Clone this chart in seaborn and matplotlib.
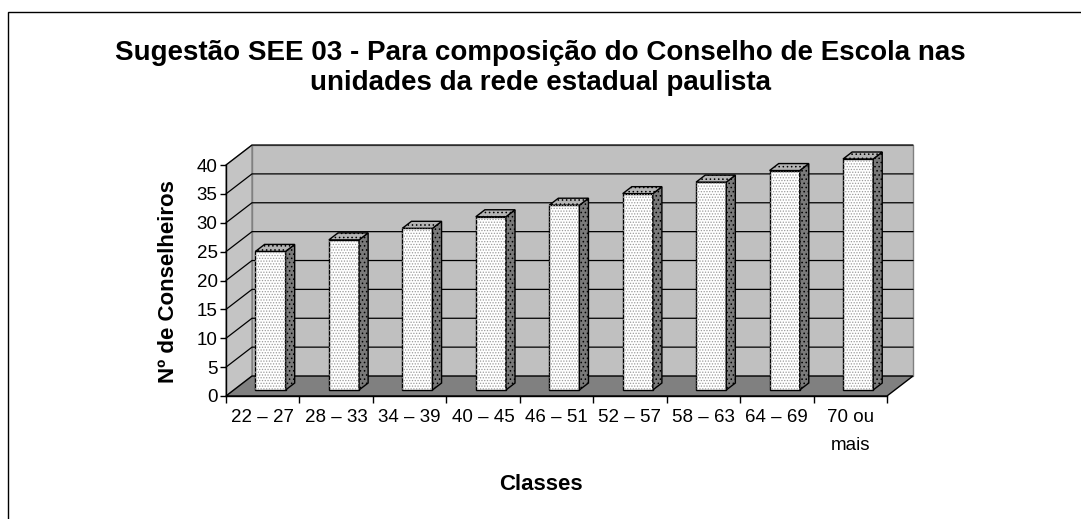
import numpy as np
import pandas as pd
import matplotlib
matplotlib.use("Agg")
import matplotlib.pyplot as plt
from matplotlib.patches import Polygon, Rectangle
import seaborn as sns


classes = ["22 – 27", "28 – 33", "34 – 39", "40 – 45", "46 – 51",
           "52 – 57", "58 – 63", "64 – 69", "70 ou\nmais"]
conselheiros = [24, 26, 28, 30, 32, 34, 36, 38, 40]
y_ticks = [0, 5, 10, 15, 20, 25, 30, 35, 40]

title = ("Sugestão SEE 03 - Para composição do Conselho de Escola nas\n"
         "unidades da rede estadual paulista")
x_label = "Classes"
y_label = "Nº de Conselheiros"

W, H = 1081, 519

# fake 3D depth (data units of the axes)
DX, DY = 0.354, 3.46
BAR_POS = 0.3     # bars sit 30% into the depth
BAR_DEPTH = 0.35  # and are 35% deep

sns.set_theme(style="white")
plt.rcParams["font.family"] = ["Liberation Sans", "DejaVu Sans"]
plt.rcParams["text.color"] = "black"
plt.rcParams["xtick.color"] = "black"
plt.rcParams["ytick.color"] = "black"
plt.rcParams["hatch.linewidth"] = 0.6

fig = plt.figure(figsize=(W / 100, H / 100), dpi=100)
ax = fig.add_axes([226 / W, 123 / H, 661 / W, 231 / H])

df = pd.DataFrame({"classe": classes, "n": conselheiros})
sns.barplot(data=df, x="classe", y="n", color="white", saturation=1,
            width=0.41, edgecolor="black", linewidth=1, ax=ax)
bars = list(ax.patches)

n = len(classes)
x_lo, x_hi = -0.5, n - 0.5
y_hi = y_ticks[-1]
ax.set_xlim(x_lo, x_hi)
ax.set_ylim(0, y_hi)

# walls and floor
back = Polygon([(x_lo + DX, DY), (x_hi + DX, DY), (x_hi + DX, y_hi + DY), (x_lo + DX, y_hi + DY)],
               facecolor="#c0c0c0", edgecolor="#808080", lw=1, clip_on=False, zorder=0)
left = Polygon([(x_lo, 0), (x_lo, y_hi), (x_lo + DX, y_hi + DY), (x_lo + DX, DY)],
               facecolor="#c4c4c4", edgecolor="#808080", lw=1, clip_on=False, zorder=0)
floor = Polygon([(x_lo, 0), (x_hi, 0), (x_hi + DX, DY), (x_lo + DX, DY)],
                facecolor="#808080", edgecolor="black", lw=1, clip_on=False, zorder=0.5)
for p in (back, left, floor):
    ax.add_patch(p)

for k in y_ticks[1:]:
    ax.plot([x_lo, x_lo + DX, x_hi + DX], [k, k + DY, k + DY],
            color="black", lw=0.9, clip_on=False, zorder=0.4)

# 3D bars
sx, sy = BAR_POS * DX, BAR_POS * DY
bx, by = BAR_DEPTH * DX, BAR_DEPTH * DY
for p in bars:
    x0 = p.get_x() + sx
    w = p.get_width()
    h = p.get_height()
    p.set_x(x0)
    p.set_y(sy)
    p.set_zorder(3)
    p.set_clip_on(False)
    y1 = sy + h
    ax.add_patch(Rectangle((x0, sy), w, h, fill=False, hatch="......",
                           edgecolor="#9a9a9a", lw=0, zorder=3.1, clip_on=False))
    side = [(x0 + w, sy), (x0 + w, y1), (x0 + w + bx, y1 + by), (x0 + w + bx, sy + by)]
    top = [(x0, y1), (x0 + w, y1), (x0 + w + bx, y1 + by), (x0 + bx, y1 + by)]
    ax.add_patch(Polygon(side, facecolor="#7a7a7a", edgecolor="black", lw=1,
                         hatch="....", zorder=3, clip_on=False))
    ax.add_patch(Polygon(top, facecolor="#b4b4b4", edgecolor="black", lw=1,
                         hatch="....", zorder=3, clip_on=False))

# axes styling
for s in ("top", "right"):
    ax.spines[s].set_visible(False)
for s in ("left", "bottom"):
    ax.spines[s].set_color("black")
    ax.spines[s].set_linewidth(1)
    ax.spines[s].set_zorder(2)

ax.set_xticks(np.arange(x_lo, x_hi + 0.01, 1))
ax.set_xticklabels([])
ax.set_xticks(range(n), minor=True)
ax.set_xticklabels(classes, minor=True, fontsize=13.5, linespacing=1.9)
ax.tick_params(axis="x", which="major", bottom=True, length=5, width=1,
               direction="out", color="black")
ax.tick_params(axis="x", which="minor", bottom=True, length=0, pad=9)
ax.set_yticks(y_ticks)
ax.set_yticklabels([str(v) for v in y_ticks], fontsize=13.5)
ax.tick_params(axis="y", left=True, length=4, width=1, direction="out",
               color="black", pad=2)
ax.set_xlabel("")
ax.set_ylabel("")

# texts
fig.text(0.5, (H - 68) / H, title, ha="center", va="center",
         fontsize=20, fontweight="bold", linespacing=1.15)
fig.text(168 / W, (H - 282) / H, y_label, rotation=90, ha="center", va="center",
         fontsize=16, fontweight="bold")
fig.text(541 / W, (H - 485) / H, x_label, ha="center", va="center",
         fontsize=16, fontweight="bold")

# outer frame (cut off at right and bottom like the original)
fig.add_artist(Rectangle((8 / W, -0.1), 1.2, (H - 12) / H + 0.1,
                         transform=fig.transFigure, fill=False,
                         edgecolor="black", lw=1))

fig.savefig("out.png", dpi=100)
